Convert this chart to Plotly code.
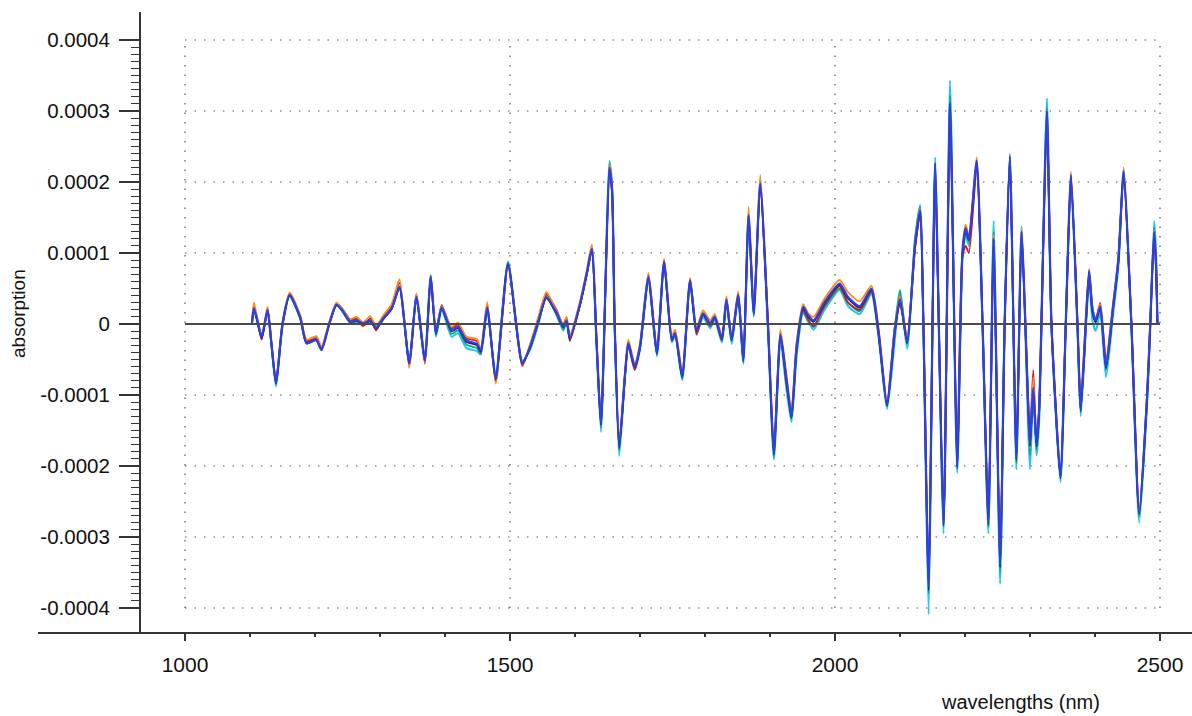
import numpy as np
import plotly.graph_objects as go

UNIT = 1e-5  # values below are in units of 1e-5 absorption

wavelength = [
    1103, 1106, 1111, 1118, 1127, 1133, 1140, 1150, 1161, 1177,
    1187, 1202, 1210, 1222, 1233, 1243, 1254, 1264, 1274, 1285,
    1294, 1305, 1318, 1330, 1345, 1356, 1369, 1378, 1386, 1395,
    1410, 1420, 1433, 1449, 1455, 1465, 1478, 1497, 1519, 1531,
    1544, 1556, 1572, 1582, 1587, 1592, 1608, 1618, 1626, 1633,
    1640, 1653, 1657, 1661, 1668, 1677, 1682, 1692, 1700, 1713,
    1726, 1737, 1749, 1754, 1765, 1777, 1787, 1797, 1808, 1815,
    1826, 1833, 1841, 1851, 1859, 1867, 1875, 1885, 1897, 1906,
    1916, 1925, 1933, 1941, 1951, 1959, 1967, 1984, 2007, 2020,
    2038, 2056, 2067, 2080, 2092, 2100, 2111, 2123, 2131, 2136,
    2144, 2150, 2154, 2167, 2177, 2188, 2196, 2201, 2206, 2218,
    2227, 2236, 2244, 2254, 2261, 2269, 2279, 2287, 2297, 2300,
    2305, 2310, 2314, 2326, 2333, 2347, 2355, 2363, 2373, 2378,
    2387, 2391, 2396, 2401, 2408, 2417, 2428, 2436, 2444, 2456,
    2468, 2480, 2485, 2491, 2494, 2496,
]

spec_blue = [
    0, 2.2, 0.6, -1.8, 2.0, -2.8, -8.3, 0, 4.1, 1.0,
    -2.7, -2.3, -3.7, 0, 2.7, 1.8, 0.3, 0.5, 0.1, 0.5,
    -0.5, 0.8, 2.2, 5.2, -5.5, 3.8, -5.1, 6.7, -1.3, 2.3,
    -0.9, -0.4, -2.3, -2.8, -3.7, 2.3, -7.6, 8.5, -5.5, -3.2,
    0.5, 3.8, 1.5, -0.4, 0.5, -2.0, 2.9, 7.1, 10.6, -2.2,
    -14.0, 22.0, 18.9, 0.1, -17.3, -7.0, -2.7, -6.0, -3.2, 6.6,
    -4.1, 8.8, -2.2, -1.3, -7.4, 6.2, -0.9, 1.5, 0.1, 1.0,
    -2.0, 3.4, -2.2, 4.1, -5.1, 15.3, 1.5, 19.8, -0.4, -18.2,
    -1.5, -7.5, -13.0, -3.2, 2.4, 1.2, 0.5, 3.1, 5.7, 3.8,
    2.5, 5.0, -1.0, -11.3, -1.0, 3.5, -2.5, 11.0, 16.0, 0,
    -37.1, 0, 22.6, -28.1, 31.1, -20.0, 10.0, 13.5, 12.0, 23.0,
    0, -28.1, 12.0, -34.0, 0, 23.6, -19.0, 13.0, -11.0, -17.0,
    -9.0, -17.0, -12.0, 30.0, 0, -21.5, 0, 21.0, 0, -12.0,
    2.0, 7.5, 2.0, 0.5, 2.5, -6.0, 2.5, 9.0, 21.5, 0,
    -26.6, -10.5, 0, 13.0, 8.0, 0,
]

spec_cyan = [
    0, 2.0, 0.4, -2.0, 1.8, -3.0, -8.8, -0.3, 3.9, 0.8,
    -2.5, -1.9, -3.4, 0.2, 2.9, 1.6, 0.2, 0.3, -0.1, 0.3,
    -0.7, 0.6, 2.4, 5.0, -5.3, 4.1, -4.9, 6.9, -1.8, 2.0,
    -1.8, -1.3, -3.4, -3.8, -4.3, 2.0, -7.2, 8.8, -5.2, -3.6,
    0.1, 4.0, 1.2, -0.9, 0.2, -1.6, 3.1, 7.3, 11.0, -2.6,
    -15.2, 23.0, 19.5, -0.3, -18.6, -7.3, -3.0, -6.4, -3.6, 6.3,
    -4.5, 8.5, -2.6, -1.6, -7.9, 5.9, -1.5, 0.9, -0.6, 0.5,
    -2.6, 3.0, -2.8, 3.8, -5.6, 15.0, 1.0, 20.3, -1.0, -19.1,
    -2.3, -9.0, -13.8, -4.5, 1.5, 0.3, -0.8, 2.0, 4.8, 2.5,
    1.4, 4.2, -1.8, -12.0, -2.3, 4.5, -3.5, 11.5, 16.8, -0.5,
    -40.9, -0.5, 23.5, -29.5, 34.3, -21.0, 9.0, 12.5, 11.0, 22.0,
    -0.5, -29.5, 14.5, -36.6, -0.5, 24.0, -20.5, 13.8, -14.0, -20.5,
    -10.0, -18.5, -14.0, 31.8, -0.5, -22.3, -0.5, 20.0, -0.5, -13.0,
    1.0, 6.5, 0.5, -1.0, 1.5, -7.5, 1.5, 8.0, 22.0, -0.5,
    -28.0, -11.5, -0.5, 14.5, 10.0, 0,
]

spec_red = [
    0.3, 2.6, 0.8, -2.2, 2.2, -2.6, -8.0, 0.2, 4.2, 1.2,
    -2.4, -2.1, -3.5, 0.1, 2.8, 2.0, 0.6, 0.8, -0.3, 0.8,
    -0.9, 1.0, 2.6, 5.8, -5.9, 4.1, -5.6, 6.4, -1.1, 2.6,
    -0.6, -0.1, -2.0, -2.4, -4.0, 2.7, -8.1, 8.3, -5.9, -3.0,
    0.9, 4.2, 1.9, -0.2, 0.9, -2.4, 2.8, 6.9, 10.3, -1.9,
    -13.6, 21.5, 18.5, 0.4, -16.9, -7.3, -3.1, -6.5, -3.0, 6.9,
    -3.6, 9.0, -1.9, -1.0, -7.0, 6.4, -1.5, 1.3, -0.3, 0.9,
    -2.3, 3.6, -2.0, 4.3, -4.9, 15.6, 1.9, 19.5, -0.1, -17.7,
    -1.2, -8.3, -12.5, -2.8, 2.0, 0.6, -0.4, 2.6, 5.3, 3.0,
    2.0, 4.6, -1.6, -11.0, -0.4, 2.8, -1.9, 10.5, 15.5, 0.3,
    -36.0, 0.3, 22.0, -27.6, 30.0, -19.5, 9.5, 11.0, 10.0, 22.3,
    0.3, -27.5, 11.0, -33.0, 0.3, 23.0, -18.5, 12.6, -10.0, -15.5,
    -6.5, -16.5, -12.0, 29.0, 0.3, -21.0, 0.3, 20.5, 0.3, -11.0,
    2.8, 7.0, 2.5, 0.2, 3.0, -5.0, 3.0, 9.5, 21.0, 0.2,
    -26.0, -10.0, 0.2, 12.5, 7.5, 0,
]

spec_orange = [
    0.2, 3.0, 0.9, -1.6, 2.4, -2.5, -8.1, 0.3, 4.4, 1.3,
    -2.2, -1.7, -3.2, 0.3, 3.0, 2.1, 0.7, 1.0, 0.2, 1.1,
    -0.2, 1.2, 2.8, 6.3, -6.2, 4.3, -5.4, 6.6, -1.0, 2.5,
    -0.4, 0.2, -1.8, -2.1, -3.4, 3.1, -8.4, 8.0, -5.7, -2.8,
    1.1, 4.5, 1.7, 0.0, 1.0, -1.7, 3.3, 7.5, 11.2, -1.7,
    -13.4, 22.5, 19.0, 0.5, -16.5, -6.6, -2.2, -5.6, -2.7, 7.2,
    -3.8, 9.2, -1.7, -0.8, -6.8, 6.5, -0.5, 1.9, 0.5, 1.4,
    -1.6, 3.9, -1.8, 4.6, -4.7, 16.5, 2.0, 21.0, 0.2, -17.5,
    -0.8, -7.0, -12.0, -2.5, 2.8, 1.5, 1.0, 3.6, 6.2, 4.5,
    3.2, 5.4, -0.6, -10.8, -0.6, 3.9, -2.0, 11.2, 16.2, 0.2,
    -36.5, 0.2, 22.4, -27.8, 31.0, -19.8, 10.5, 14.0, 12.5, 23.5,
    0.2, -27.8, 12.5, -33.5, 0.2, 23.8, -18.8, 13.5, -11.0, -17.5,
    -7.5, -17.0, -12.2, 30.2, 0.2, -21.0, 0.2, 21.5, 0.2, -11.5,
    2.3, 7.8, 2.2, 0.8, 2.8, -5.5, 2.8, 9.5, 22.0, 0.2,
    -26.3, -10.2, 0.2, 13.3, 8.5, 0,
]

spec_green = [
    0.1, 2.3, 0.5, -1.9, 1.9, -2.9, -8.5, -0.1, 4.0, 0.9,
    -2.8, -2.0, -3.3, 0.1, 2.6, 1.9, 0.4, 0.6, -0.1, 0.4,
    -0.6, 0.7, 2.3, 5.3, -5.2, 4.2, -4.8, 6.8, -1.5, 2.7,
    -1.4, -0.9, -2.9, -3.4, -4.2, 2.1, -7.4, 8.6, -5.3, -3.4,
    0.4, 3.6, 1.3, -0.7, 0.4, -1.9, 2.8, 7.0, 10.4, -2.4,
    -14.6, 22.6, 19.2, 0.0, -17.8, -7.2, -2.6, -6.2, -3.4, 6.4,
    -4.4, 8.6, -2.4, -1.5, -7.7, 6.0, -1.2, 1.3, -0.2, 0.8,
    -2.3, 3.6, -2.4, 3.9, -5.4, 15.4, 1.2, 20.0, -0.6, -18.8,
    -1.8, -7.8, -13.3, -4.0, 1.8, 0.4, -0.2, 2.4, 5.0, 3.0,
    1.8, 4.4, -1.4, -11.6, -0.4, 4.8, -2.8, 12.0, 16.5, -0.2,
    -38.0, -0.2, 22.8, -28.6, 32.2, -20.5, 9.8, 12.8, 11.5, 23.0,
    -0.2, -28.6, 13.0, -35.0, -0.2, 23.8, -19.6, 13.2, -12.0, -18.5,
    -8.5, -17.8, -13.0, 30.5, -0.2, -21.8, -0.2, 20.8, -0.2, -12.5,
    1.6, 7.2, 1.4, 0.3, 2.2, -6.5, 2.2, 8.8, 21.6, -0.2,
    -27.2, -10.8, -0.2, 13.6, 8.5, 0,
]

spec_navy = [
    0.0, 2.1, 0.5, -2.0, 1.9, -2.9, -8.4, -0.1, 4.0, 1.0,
    -2.7, -2.2, -3.6, 0.0, 2.7, 1.8, 0.3, 0.4, 0.0, 0.4,
    -0.6, 0.7, 2.1, 5.1, -5.6, 3.7, -5.2, 6.6, -1.4, 2.2,
    -1.0, -0.6, -2.5, -3.0, -3.9, 2.2, -7.8, 8.4, -5.6, -3.3,
    0.4, 3.7, 1.4, -0.5, 0.4, -2.1, 2.8, 7.0, 10.5, -2.3,
    -14.2, 21.8, 18.7, 0.0, -17.5, -7.1, -2.8, -6.1, -3.3, 6.5,
    -4.2, 8.7, -2.3, -1.4, -7.5, 6.1, -1.0, 1.4, 0.0, 0.9,
    -2.1, 3.3, -2.3, 4.0, -5.2, 15.2, 1.4, 19.6, -0.5, -18.4,
    -1.6, -7.7, -13.2, -3.4, 2.2, 1.0, 0.3, 2.9, 5.5, 3.6,
    2.3, 4.8, -1.2, -11.5, -1.2, 3.3, -2.7, 10.8, 15.8, -0.1,
    -37.5, -0.1, 22.4, -28.3, 31.0, -20.2, 9.8, 13.3, 11.8, 22.8,
    -0.1, -28.3, 11.8, -34.3, -0.1, 23.4, -19.2, 12.8, -11.2, -17.2,
    -9.2, -17.2, -12.2, 29.8, -0.1, -21.7, -0.1, 20.8, -0.1, -12.2,
    1.8, 7.3, 1.8, 0.3, 2.3, -6.2, 2.3, 8.8, 21.3, -0.1,
    -26.8, -10.7, -0.1, 12.8, 7.8, 0,
]

x_tick_vals = [1000, 1500, 2000, 2500]
x_tick_text = ["1000", "1500", "2000", "2500"]
y_tick_vals = [-0.0004, -0.0003, -0.0002, -0.0001, 0, 0.0001, 0.0002, 0.0003, 0.0004]
y_tick_text = ["-0.0004", "-0.0003", "-0.0002", "-0.0001", "0",
               "0.0001", "0.0002", "0.0003", "0.0004"]

series = [
    ("cyan", spec_cyan, "#1ec8ee", 2.0),
    ("green", spec_green, "#17a07c", 1.8),
    ("red", spec_red, "#c8202a", 1.8),
    ("orange", spec_orange, "#ff8a1c", 1.8),
    ("navy", spec_navy, "#1c1c78", 1.8),
    ("blue", spec_blue, "#2e40e0", 2.2),
]

for name, vals, _, _ in series:
    assert len(vals) == len(wavelength), (name, len(vals), len(wavelength))

fig = go.Figure()
for name, vals, color, w in series:
    fig.add_trace(go.Scatter(
        x=wavelength, y=[v * UNIT for v in vals], mode="lines", name=name,
        line=dict(color=color, width=w, shape="spline", smoothing=0.6),
        showlegend=False, hoverinfo="skip",
    ))

FONT = "Liberation Sans, Arial, Helvetica, sans-serif"
grid_col = "#555555"
shapes = []
for xv in x_tick_vals:
    shapes.append(dict(type="line", xref="x", yref="y", x0=xv, x1=xv,
                       y0=-0.0004, y1=0.0004, layer="below",
                       line=dict(color=grid_col, width=1.2, dash="1.5px,8px")))
for yv in y_tick_vals:
    if yv == 0:
        continue
    shapes.append(dict(type="line", xref="x", yref="y", x0=1000, x1=2500,
                       y0=yv, y1=yv, layer="below",
                       line=dict(color=grid_col, width=1.2, dash="1.5px,8px")))
shapes.append(dict(type="line", xref="x", yref="y", x0=1000, x1=2500,
                   y0=0, y1=0, layer="above",
                   line=dict(color="#4a4a4a", width=1.8)))

x_minor = [v for v in range(1100, 2500, 100) if v not in x_tick_vals]
y_minor = [round(k * 1e-5, 6) for k in range(-40, 41) if k % 10 != 0]

W, H = 1192, 716
L, R, T, B = 38, 0, 12, 84
yaxis_px = 140
fig.update_layout(
    width=W, height=H,
    margin=dict(l=L, r=R, t=T, b=B, pad=0),
    paper_bgcolor="white", plot_bgcolor="white",
    font=dict(family=FONT, size=20, color="#111111"),
    shapes=shapes,
    xaxis=dict(
        range=[1000 - (185 - L) / 0.65, 2500 + (W - R - 1160) / 0.65],
        showgrid=False, zeroline=False,
        showline=True, linecolor="#333333", linewidth=2,
        ticks="outside", ticklen=7, tickwidth=1.5, tickcolor="#333333",
        tickvals=x_tick_vals, ticktext=x_tick_text,
        ticklabelstandoff=6,
        minor=dict(tickvals=x_minor, ticks="outside", ticklen=3,
                   tickwidth=1.5, tickcolor="#333333", showgrid=False),
        tickfont=dict(size=21),
    ),
    yaxis=dict(
        range=[(324 - (H - B)) / 710000.0, (324 - T) / 710000.0],
        anchor="free", position=(yaxis_px - L) / (W - L - R),
        showgrid=False, zeroline=False,
        showline=True, linecolor="#333333", linewidth=2,
        ticks="outside", ticklen=20, tickwidth=1.5, tickcolor="#333333",
        tickvals=y_tick_vals, ticktext=y_tick_text,
        ticklabelstandoff=5,
        minor=dict(tickvals=y_minor, ticks="outside", ticklen=8,
                   tickwidth=1.2, tickcolor="#333333", showgrid=False),
        tickfont=dict(size=20.5),
    ),
    annotations=[
        dict(text="wavelengths (nm)", xref="paper", yref="paper",
             x=(1020 - L) / (W - L - R), y=(H - B - 689) / (H - T - B),
             xanchor="center", yanchor="top", showarrow=False,
             font=dict(size=20, family=FONT, color="#111111")),
        dict(text="absorption", xref="paper", yref="paper",
             x=(18 - L) / (W - L - R), y=(H - B - 314) / (H - T - B),
             xanchor="center", yanchor="middle", textangle=-90, showarrow=False,
             font=dict(size=19, family=FONT, color="#111111")),
    ],
)

fig.write_html("out.html", config={"displayModeBar": False},
               post_script="document.body.style.margin='0';document.body.style.padding='0';")
